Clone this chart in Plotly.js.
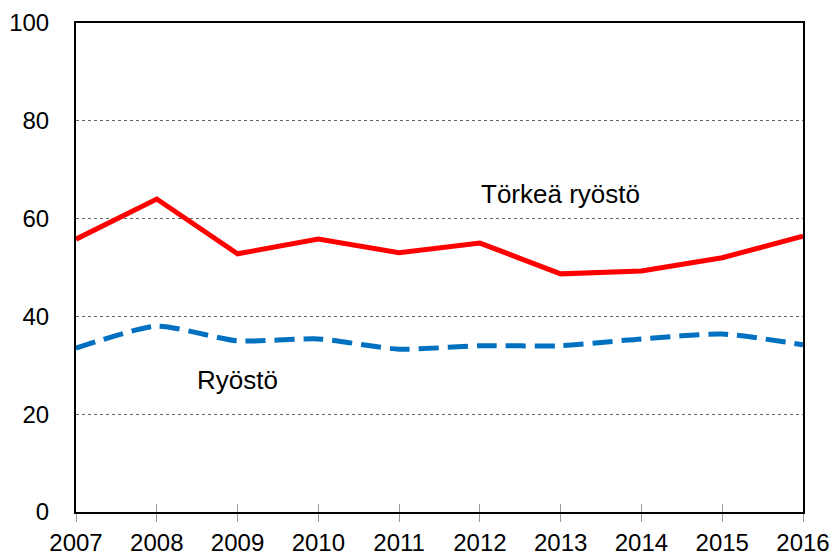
<!DOCTYPE html>
<html>
<head>
<meta charset="utf-8">
<script src="https://cdn.plot.ly/plotly-3.0.1.min.js"></script>
<style>html,body{margin:0;padding:0;background:#fff}</style>
</head>
<body>
<div id="chart" style="width:833px;height:555px"></div>
<script>
const years = [2007, 2008, 2009, 2010, 2011, 2012, 2013, 2014, 2015, 2016];
const torkeaRyosto = [55.8, 64.0, 52.8, 55.8, 53.0, 55.0, 48.7, 49.3, 52.0, 56.4];
const ryosto = [33.5, 38.0, 35.0, 35.4, 33.3, 34.0, 34.0, 35.4, 36.4, 34.2];
const yTicks = [0, 20, 40, 60, 80, 100];
const labelTorkea = "Törkeä ryöstö";
const labelRyosto = "Ryöstö";

const tickFont = {family: "Liberation Sans, Arial, sans-serif", size: 24, color: "#000"};
const annFont = {family: "Liberation Sans, Arial, sans-serif", size: 26, color: "#000"};

const traces = [
  {x: years, y: torkeaRyosto, type: "scatter", mode: "lines", name: labelTorkea,
   line: {color: "#FF0000", width: 5}},
  {x: years, y: ryosto, type: "scatter", mode: "lines", name: labelRyosto,
   line: {color: "#0070C0", width: 5, dash: "20px,9px", shape: "spline", smoothing: 0.6}},
  {x: years, y: ryosto, type: "scatter", mode: "none", xaxis: "x2", hoverinfo: "skip", showlegend: false}
];

const layout = {
  width: 833, height: 555,
  margin: {l: 76, r: 30, t: 23, b: 43},
  paper_bgcolor: "#fff", plot_bgcolor: "#fff",
  showlegend: false,
  font: tickFont,
  xaxis: {
    range: [2007, 2016], tickvals: years, ticktext: years.map(String),
    showline: true, linecolor: "#000", linewidth: 2, mirror: true,
    ticks: "outside", ticklen: 8, tickcolor: "#999", tickwidth: 1,
    showgrid: false, zeroline: false, tickfont: tickFont
  },
  xaxis2: {
    range: [2007, 2016], tickvals: years, overlaying: "x", side: "bottom",
    ticks: "inside", ticklen: 8, tickcolor: "#999", tickwidth: 1,
    showticklabels: false, showgrid: false, zeroline: false, showline: false
  },
  yaxis: {
    range: [0, 100], tickvals: yTicks,
    showline: true, linecolor: "#000", linewidth: 2, mirror: true,
    ticks: "", ticklabelstandoff: 20,
    showgrid: true, gridcolor: "#666", griddash: "dot", gridwidth: 1,
    zeroline: false, tickfont: tickFont
  },
  annotations: [
    {x: 2013.0, y: 65, xref: "x", yref: "y", text: labelTorkea, showarrow: false,
     font: annFont, xanchor: "center", yanchor: "middle"},
    {x: 2009.0, y: 27, xref: "x", yref: "y", text: labelRyosto, showarrow: false,
     font: annFont, xanchor: "center", yanchor: "middle"}
  ]
};

Plotly.newPlot("chart", traces, layout, {staticPlot: true, displayModeBar: false});
</script>
</body>
</html>
